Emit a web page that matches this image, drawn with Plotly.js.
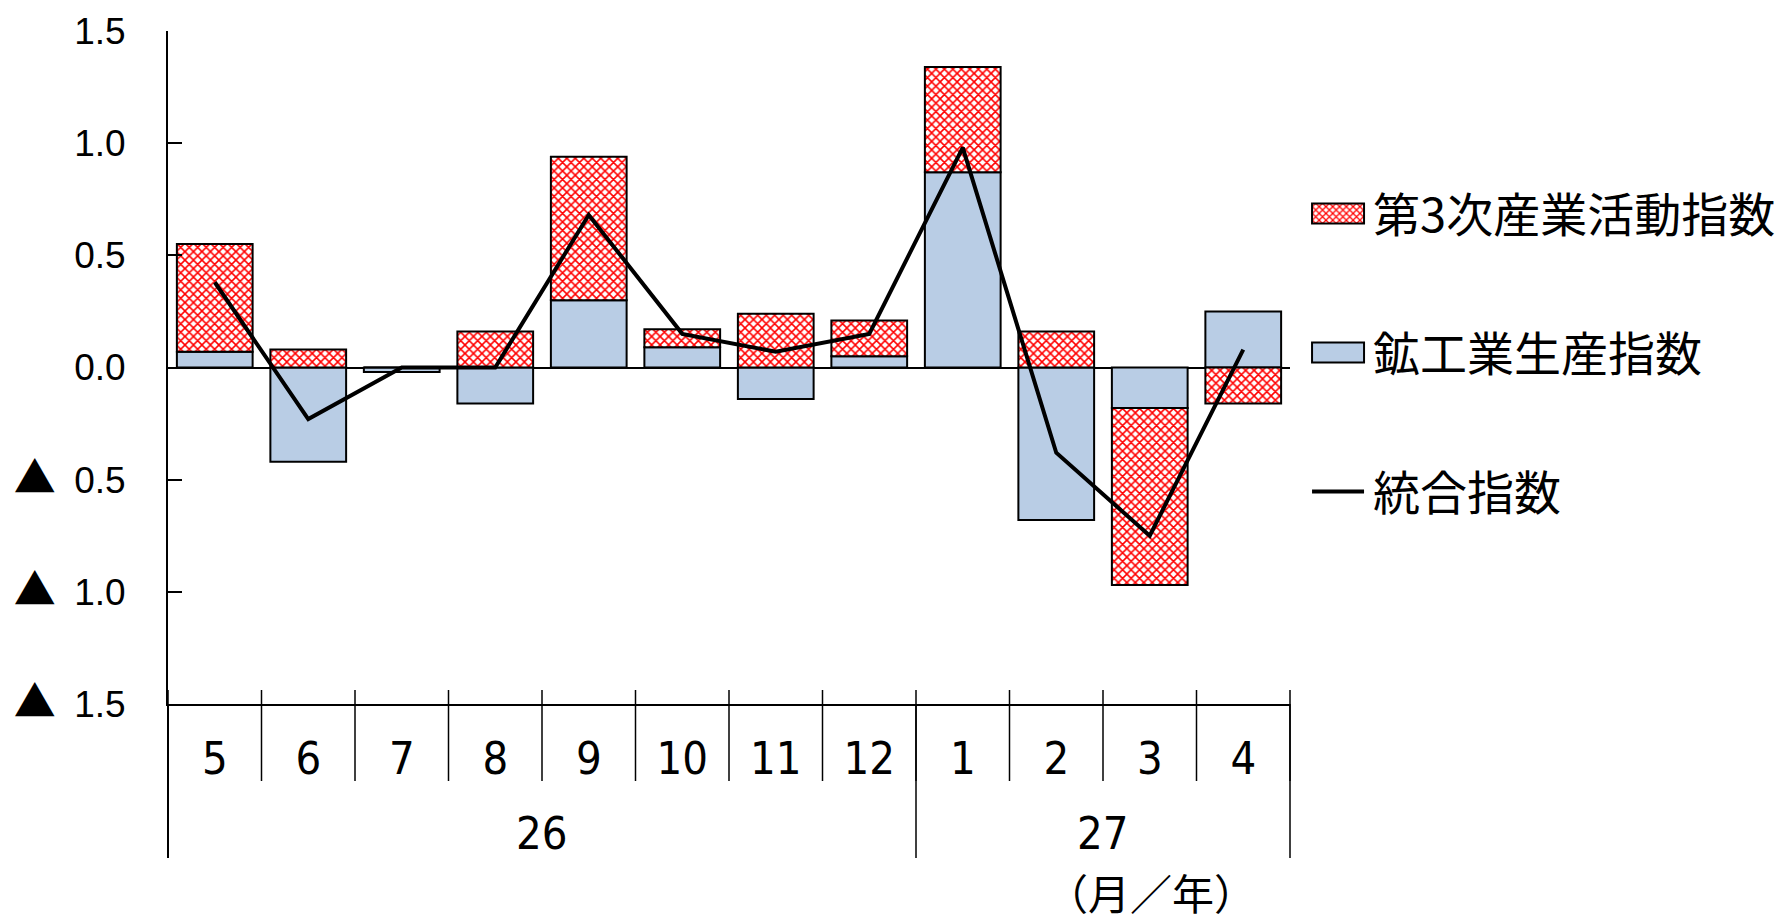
<!DOCTYPE html>
<html><head><meta charset="utf-8">
<script src="https://cdn.plot.ly/plotly-3.0.1.min.js"></script>
<style>html,body{margin:0;padding:0;background:#fff;} #chart{width:1790px;height:921px;}</style>
<style id="legfix"></style>
</head><body><div id="chart"></div>
<script>
const months = ['5','6','7','8','9','10','11','12','1','2','3','4'];
const years = ['26','27'];
const monthsPerYear = [8, 4];
const mining = [0.07, -0.42, -0.02, -0.16, 0.30, 0.09, -0.14, 0.05, 0.87, -0.68, -0.18, 0.25];
const tertiary = [0.48, 0.08, 0.00, 0.16, 0.64, 0.08, 0.24, 0.16, 0.47, 0.16, -0.79, -0.16];
const composite = [0.38, -0.23, 0.00, 0.00, 0.68, 0.15, 0.07, 0.15, 0.98, -0.38, -0.75, 0.08];
const yTickVals = [-1.5, -1.0, -0.5, 0, 0.5, 1.0, 1.5];
const yTickNums = ['1.5', '1.0', '0.5', '0.0', '0.5', '1.0', '1.5'];
const seriesNames = ['第3次産業活動指数', '鉱工業生産指数', '統合指数'];
const axisUnitLabel = '（月／年）';

const CJK = '"Noto Sans CJK JP", "Noto Sans", sans-serif';
const NARROW = '"Liberation Sans Narrow", "DejaVu Sans Condensed", "DejaVu Sans", sans-serif';
const TRI = '<span style="font-family:\'Noto Sans CJK JP\';font-size:42px">▲</span>';
const yTickText = yTickVals.map((v, i) => (v < 0 ? TRI + '\u2002' : '') + yTickNums[i]);

const traces = [
  {type:'scatter', mode:'lines', x:months, y:composite, name:seriesNames[2],
   line:{color:'#000000', width:4}, legendgroup:'c', legendrank:3},
  {type:'bar', x:months, y:mining, name:seriesNames[1], legendgroup:'b', legendrank:2,
   marker:{color:'#B9CDE5', line:{color:'#000000', width:2}}},
  {type:'bar', x:months, y:tertiary, name:seriesNames[0], legendgroup:'a', legendrank:1,
   marker:{color:'#FFFFFF', line:{color:'#000000', width:2},
     pattern:{shape:'x', fgcolor:'#FF0000', bgcolor:'#FFFFFF', size:6, solidity:0.45, fillmode:'replace'}}}
];

const nCat = months.length;
const shapes = [];
const annotations = [];
for (let i = 0; i <= nCat; i++) {
  shapes.push({type:'line', xref:'paper', yref:'paper', x0:i/nCat, x1:i/nCat, y0:0.0208, y1:-0.1144,
    line:{color:'#000000', width:1.5}});
}
let acc = 0;
shapes.push({type:'line', xref:'paper', yref:'paper', x0:0, x1:0, y0:0, y1:-0.229, line:{color:'#000000', width:2}});
years.forEach((yr, k) => {
  const n = monthsPerYear[k];
  annotations.push({xref:'paper', yref:'paper', x:(acc + n/2)/nCat, y:-0.1917, text:yr, showarrow:false,
    xanchor:'center', yanchor:'middle', font:{family:NARROW, size:45, stretch:'condensed', color:'#000000'}});
  acc += n;
  shapes.push({type:'line', xref:'paper', yref:'paper', x0:acc/nCat, x1:acc/nCat, y0:0, y1:-0.229,
    line:{color:'#000000', width:1.5}});
});
annotations.push({xref:'paper', yref:'paper', x:0.876, y:-0.2793, text:axisUnitLabel, showarrow:false,
  xanchor:'center', yanchor:'middle', font:{family:CJK, size:42, color:'#000000'}});

const layout = {
  width:1790, height:921,
  margin:{l:168, r:500, t:31, b:217, autoexpand:false},
  paper_bgcolor:'#FFFFFF', plot_bgcolor:'#FFFFFF',
  barmode:'relative', bargap:0.19,
  showlegend:true,
  legend:{x:1.0143, xanchor:'left', y:0.784, yanchor:'top', traceorder:'grouped', tracegroupgap:75,
    itemwidth:57,
    font:{family:CJK, size:47, color:'#000000'}, bgcolor:'rgba(0,0,0,0)', borderwidth:0},
  xaxis:{type:'category', range:[-0.5, nCat-0.5], showgrid:false, zeroline:false,
    showline:true, linecolor:'#000000', linewidth:2, ticks:'', ticklabelstandoff:14,
    tickfont:{family:NARROW, size:45, stretch:'condensed', color:'#000000'}},
  yaxis:{range:[-1.5, 1.5], tickvals:yTickVals, ticktext:yTickText, showgrid:false,
    zeroline:true, zerolinecolor:'#000000', zerolinewidth:2,
    showline:true, linecolor:'#000000', linewidth:2, ticks:'inside', ticklen:14, tickwidth:2, tickcolor:'#000000',
    ticklabelstandoff:33, tickfont:{family:'"Liberation Sans", Arial, sans-serif', size:37, color:'#000000'}},
  shapes:shapes, annotations:annotations
};

// Enlarge the legend swatches to the reference's wide boxes / long line.
function fixLegend() {
  try {
    const items = document.querySelectorAll('.legend .traces');
    let css = '';
    items.forEach(g => {
      const txt = g.querySelector('.legendtext');
      if (!txt) return;
      let tx = parseFloat(txt.getAttribute('x'));
      if (!isFinite(tx)) tx = 67;
      const gE = g.getCTM().e;
      const x0 = Math.max(tx - 61, 1), x1 = tx - 9;
      const line = g.querySelector('.legendlines path');
      const bar = g.querySelector('.legendpoints path');
      if (line) {
        const off = line.getCTM().e - gE;
        const d = 'M' + (x0 - off) + ',0H' + (x1 - off);
        line.setAttribute('d', d);
        css += '.legend .legendlines path{d:path("' + d + '");}\n';
      } else if (bar) {
        const off = bar.getCTM().e - gE;
        const d = 'M' + (x0 - off) + ',-10H' + (x1 - off) + 'V10H' + (x0 - off) + 'Z';
        bar.setAttribute('d', d);
        css += '.legend .legendpoints path{d:path("' + d + '");}\n';
      }
    });
    document.getElementById('legfix').textContent = css;
  } catch (e) {}
}

Plotly.newPlot('chart', traces, layout, {staticPlot:true, displayModeBar:false}).then(gd => {
  fixLegend();
  [300, 800].forEach(t => setTimeout(fixLegend, t));
});
</script>
</body></html>
